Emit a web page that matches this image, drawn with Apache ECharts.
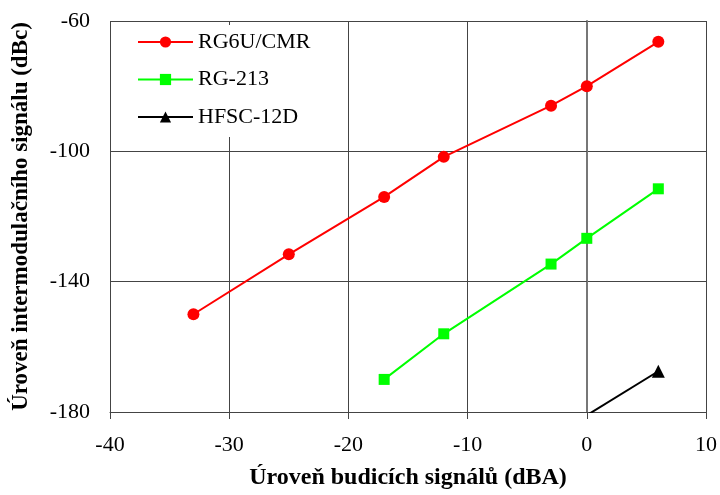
<!DOCTYPE html>
<html>
<head>
<meta charset="utf-8">
<script src="https://cdn.jsdelivr.net/npm/echarts@6/dist/echarts.min.js"></script>
<style>html,body{margin:0;padding:0;background:#fff}#c{width:720px;height:495px}</style>
</head>
<body>
<div id="c"></div>
<script>
const seriesNames = ['RG6U/CMR', 'RG-213', 'HFSC-12D'];
const xRG6U = [-33, -25, -17, -12, -3, 0, 6];
const yRG6U = [-150, -131.6, -114, -101.7, -86, -80, -66.4];
const xRG213 = [-17, -12, -3, 0, 6];
const yRG213 = [-170, -156, -134.6, -126.7, -111.5];
const xHFSC = [0, 6];
const yHFSC = [-181, -167.5];
const xTitle = 'Úroveň budicích signálů (dBA)';
const yTitle = 'Úroveň intermodulačního signálu (dBc)';

const pairs = (xs, ys) => xs.map((x, i) => [x, ys[i]]);
const font = "'Liberation Serif', 'Times New Roman', serif";

const chart = echarts.init(document.getElementById('c'), null, {renderer: 'canvas'});
chart.setOption({
  animation: false,
  backgroundColor: '#fff',
  textStyle: {fontFamily: font},
  grid: {left: 110, right: 14, top: 21, bottom: 80, containLabel: false},
  legend: {
    orient: 'vertical',
    left: 123, top: 25,
    padding: [6, 20, 9, 14],
    backgroundColor: '#fff',
    itemWidth: 55, itemHeight: 14,
    itemGap: 15.5,
    textStyle: {fontFamily: font, fontSize: 22, color: '#000'},
    data: seriesNames
  },
  xAxis: {
    type: 'value', min: -40, max: 10, interval: 10,
    name: xTitle, nameLocation: 'middle', nameGap: 54,
    nameTextStyle: {fontFamily: font, fontSize: 24, fontWeight: 'bold', color: '#000'},
    axisLine: {show: true, lineStyle: {color: '#444', width: 1}},
    axisTick: {show: true, inside: false, length: 7, lineStyle: {color: '#444'}},
    axisLabel: {fontFamily: font, fontSize: 22, color: '#000', margin: 22},
    splitLine: {show: true, lineStyle: {color: '#444', width: 1}}
  },
  yAxis: {
    type: 'value', min: -180, max: -60, interval: 40,
    name: yTitle, nameLocation: 'middle', nameGap: 77, nameRotate: 90,
    nameTextStyle: {fontFamily: font, fontSize: 23, fontWeight: 'bold', color: '#000'},
    axisLine: {show: true, lineStyle: {color: '#777', width: 2}},
    axisTick: {show: true, inside: false, length: 7, lineStyle: {color: '#444'}},
    axisLabel: {fontFamily: font, fontSize: 22, color: '#000', margin: 20},
    splitLine: {show: true, lineStyle: {color: '#444', width: 1}}
  },
  series: [
    {name: seriesNames[0], type: 'line', data: pairs(xRG6U, yRG6U), symbol: 'circle', symbolSize: 12,
     lineStyle: {color: '#ff0000', width: 2}, itemStyle: {color: '#ff0000'}, clip: true, z: 3},
    {name: seriesNames[1], type: 'line', data: pairs(xRG213, yRG213), symbol: 'rect', symbolSize: 11,
     lineStyle: {color: '#00ff00', width: 2}, itemStyle: {color: '#00ff00'}, clip: true, z: 3},
    {name: seriesNames[2], type: 'line', data: pairs(xHFSC, yHFSC), symbol: 'triangle', symbolSize: 13,
     lineStyle: {color: '#000', width: 2}, itemStyle: {color: '#000'}, clip: true, z: 3}
  ]
});
</script>
</body>
</html>
